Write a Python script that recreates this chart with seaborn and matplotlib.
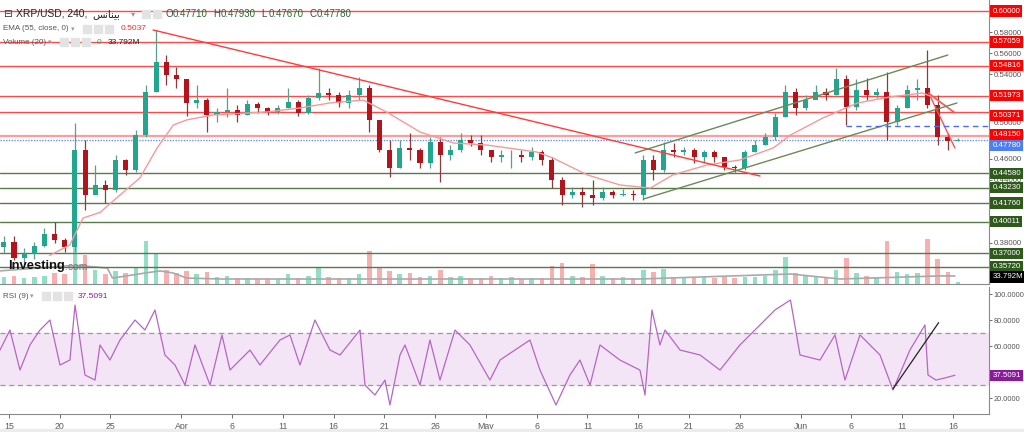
import numpy as np
import pandas as pd
import matplotlib
matplotlib.use("Agg")
import matplotlib.pyplot as plt
import matplotlib.transforms as mtransforms
import seaborn as sns

sns.set_theme(style="white")
plt.rcParams['font.family'] = ['Liberation Sans', 'DejaVu Sans']

# ---------------- data (daily, day 0 = 14 Mar) ----------------
close = [0.381, 0.366, 0.369, 0.377, 0.388, 0.383, 0.376, 0.468, 0.425, 0.435,
         0.430, 0.459, 0.449, 0.482, 0.523, 0.552, 0.539, 0.535, 0.513, 0.516,
         0.501, 0.504, 0.506, 0.501, 0.512, 0.508, 0.504, 0.508, 0.514, 0.503,
         0.517, 0.522, 0.520, 0.513, 0.520, 0.527, 0.497, 0.468, 0.451, 0.470,
         0.468, 0.456, 0.476, 0.463, 0.468, 0.478, 0.475, 0.468, 0.461, 0.463,
         0.463, 0.461, 0.466, 0.459, 0.440, 0.425, 0.428, 0.425, 0.423, 0.428,
         0.425, 0.426, 0.425, 0.459, 0.449, 0.468, 0.466, 0.468, 0.461, 0.466,
         0.461, 0.452, 0.451, 0.466, 0.473, 0.480, 0.499, 0.523, 0.508, 0.516,
         0.523, 0.520, 0.535, 0.509, 0.525, 0.520, 0.523, 0.495, 0.508, 0.525,
         0.527, 0.511, 0.480, 0.4771, 0.4778]
high = [0.386, 0.386, 0.375, 0.381, 0.394, 0.400, 0.385, 0.494, 0.478, 0.454,
        0.440, 0.463, 0.460, 0.487, 0.530, 0.582, 0.558, 0.547, 0.534, 0.530,
        0.517, 0.508, 0.527, 0.511, 0.516, 0.514, 0.509, 0.511, 0.527, 0.516,
        0.520, 0.546, 0.527, 0.523, 0.525, 0.537, 0.530, 0.495, 0.478, 0.478,
        0.484, 0.470, 0.480, 0.480, 0.473, 0.484, 0.482, 0.482, 0.468, 0.468,
        0.468, 0.468, 0.471, 0.468, 0.461, 0.442, 0.433, 0.433, 0.440, 0.433,
        0.430, 0.431, 0.430, 0.463, 0.463, 0.476, 0.475, 0.471, 0.470, 0.468,
        0.468, 0.461, 0.454, 0.468, 0.478, 0.484, 0.503, 0.530, 0.527, 0.520,
        0.530, 0.527, 0.546, 0.539, 0.535, 0.536, 0.527, 0.542, 0.511, 0.530,
        0.535, 0.563, 0.520, 0.484, 0.4793]
low = [0.370, 0.364, 0.358, 0.365, 0.376, 0.380, 0.371, 0.371, 0.411, 0.427,
       0.418, 0.428, 0.444, 0.447, 0.480, 0.523, 0.530, 0.527, 0.500, 0.508,
       0.485, 0.495, 0.499, 0.495, 0.501, 0.503, 0.501, 0.502, 0.508, 0.500,
       0.502, 0.516, 0.516, 0.509, 0.508, 0.516, 0.485, 0.466, 0.442, 0.451,
       0.459, 0.451, 0.451, 0.438, 0.459, 0.466, 0.472, 0.463, 0.457, 0.457,
       0.451, 0.457, 0.459, 0.454, 0.432, 0.416, 0.423, 0.414, 0.416, 0.421,
       0.423, 0.424, 0.421, 0.421, 0.440, 0.447, 0.461, 0.463, 0.456, 0.456,
       0.457, 0.449, 0.447, 0.449, 0.466, 0.473, 0.478, 0.499, 0.501, 0.506,
       0.517, 0.516, 0.520, 0.492, 0.506, 0.516, 0.517, 0.478, 0.492, 0.508,
       0.516, 0.508, 0.473, 0.468, 0.4767]
first_open = 0.376
volume_m = [30, 35, 25, 30, 35, 45, 40, 290, 120, 60, 40, 55, 45, 70, 180, 130, 60, 45, 55, 40,
            50, 30, 35, 25, 25, 20, 20, 20, 40, 25, 35, 70, 30, 25, 25, 40, 140, 70, 55, 40,
            45, 30, 35, 60, 30, 35, 25, 25, 35, 25, 30, 20, 25, 25, 75, 90, 35, 30, 85, 35,
            25, 30, 25, 60, 50, 65, 30, 25, 25, 30, 25, 30, 25, 30, 30, 35, 60, 115, 45, 35,
            30, 30, 60, 110, 45, 35, 30, 180, 50, 40, 45, 190, 105, 50, 10]

ema_day = [5.0, 7.0, 8.3, 10.0, 11.6, 13.9, 15.6, 17.2, 18.5, 21.1, 26.4, 29.7, 32.6, 35.9,
           38.2, 41.5, 44.8, 48.1, 53.0, 54.6, 58.0, 61.2, 64.2, 66.4, 69.8, 73.0, 76.3,
           78.0, 81.2, 84.6, 87.8, 91.0, 92.0, 94.2]
ema_val = [0.368, 0.378, 0.4035, 0.409, 0.4225, 0.4415, 0.470, 0.4918, 0.4966, 0.5013,
           0.5042, 0.508, 0.5127, 0.5155, 0.5042, 0.4852, 0.4747, 0.4728, 0.4662, 0.4605,
           0.4444, 0.4349, 0.432, 0.4444, 0.4539, 0.4586, 0.470, 0.4823, 0.4985, 0.5127,
           0.5184, 0.5222, 0.5184, 0.5037]

vsma_day = [0.1, 6.7, 8.3, 10.7, 11.2, 14.4, 15.9, 17.2, 18.5, 21.8, 40.0, 63.2, 78.0, 82.9, 92.7, 94.2]
vsma_val = [55, 76, 76, 67, 25, 46, 55, 46, 25, 21, 21, 21, 42, 21, 34, 33.8]

rsi_day = [0.12, 1.1, 2.09, 3.07, 4.06, 5.04, 6.03, 7.01, 7.51, 8.49, 9.48, 9.97, 10.95, 11.94,
           13.42, 14.4, 15.39, 16.37, 17.36, 18.35, 19.33, 20.81, 21.99, 22.78, 24.75, 25.73,
           27.7, 28.69, 29.67, 31.15, 32.63, 33.62, 35.59, 36.08, 37.06, 38.05, 38.54, 39.53,
           40.02, 41.5, 42.48, 43.47, 44.95, 46.42, 48.39, 49.38, 52.33, 53.32, 54.9, 56.27,
           57.26, 58.25, 59.23, 61.2, 63.17, 63.67, 64.35, 65.14, 65.64, 67.12, 69.09, 71.06,
           73.02, 75.0, 76.47, 78.0, 78.94, 80.91, 82.39, 83.37, 84.85, 86.82, 88.1, 89.77,
           91.25, 91.55, 92.34, 93.2, 94.2]
rsi_val = [56.9, 72.3, 41.5, 60.8, 72.3, 80.0, 45.4, 49.2, 91.5, 37.7, 33.8, 60.8, 49.2, 64.6,
           80.0, 72.3, 87.7, 53.1, 45.4, 30.0, 60.8, 30.0, 68.5, 41.5, 56.9, 45.4, 64.6, 68.5,
           45.4, 80.0, 56.9, 53.1, 72.3, 30.0, 22.3, 33.8, 14.6, 53.1, 60.8, 30.0, 64.6, 33.8,
           72.3, 60.8, 33.8, 49.2, 64.6, 41.5, 14.6, 37.7, 49.2, 30.0, 60.8, 49.2, 41.5, 22.3,
           87.7, 60.8, 72.3, 56.9, 53.1, 41.5, 60.8, 76.2, 87.7, 95.4, 53.1, 49.2, 68.5, 33.8,
           68.5, 53.1, 26.2, 56.9, 76.2, 37.7, 33.8, 35.4, 37.5091]

red_levels = [0.60000, 0.57059, 0.54816, 0.51973, 0.50371]
pink_level = 0.48150
green_levels = [0.44580, 0.43230, 0.41760, 0.40011, 0.37000, 0.35720]
last_price = 0.47780
ema_last = 0.5037
vol_sma_last = "33.792M"
rsi_last = 37.5091
ohlc_last = [("O", "0.47710"), ("H", "0.47930"), ("L", "0.47670"), ("C", "0.47780")]

tick_days = [1, 6, 11, 18, 23, 28, 33, 38, 43, 48, 53, 58, 63, 68, 73, 79, 84, 89, 94]
tick_labels = ["15", "20", "25", "Apr", "6", "11", "16", "21", "26", "May", "6", "11",
               "16", "21", "26", "Jun", "6", "11", "16"]

# trend lines (day, price)
down_trend = [(15.2, 0.582), (75.0, 0.4434)]
chan_low = [(63.5, 0.4215), (94.4, 0.5127)]
chan_high = [(62.7, 0.4653), (93.5, 0.5582)]
short_red1 = [(91.6, 0.5222), (94.2, 0.5032)]
short_red2 = [(91.8, 0.5184), (94.2, 0.4700)]
blue_dash = [(83.5, 0.4909), (97.6, 0.4909)]
rsi_trend = [(88.1, 27.0), (92.6, 78.0)]

# ---------------- figure / layout ----------------
W, H = 1024, 432
fig = plt.figure(figsize=(W / 100, H / 100), dpi=100)
fig.patch.set_facecolor("white")
LBL = 5.7


def px_axes(x0, y0, x1, y1):
    return fig.add_axes([x0 / W, 1 - y1 / H, (x1 - x0) / W, (y1 - y0) / H])


ax = px_axes(0, 0, 989, 284)
rax = px_axes(0, 287, 989, 414)

days = np.arange(len(close))
opens = [first_open] + close[:-1]
centers = days + 0.5
df = pd.DataFrame({"day": centers, "open": opens, "close": close, "high": high, "low": low,
                   "vol": volume_m})
df["up"] = df["close"] >= df["open"]

up_col, dn_col = "#23a68e", "#b3141c"
colors = np.where(df["up"], up_col, dn_col)
wick_cols = np.where(df["up"], "#5f9c8a", "#8c3a3a")

# volume on twin axis
vax = ax.twinx()
vcols = np.where(df["up"], "#92dfc6", "#f7b0b0")
vax.bar(df["day"], df["vol"], width=0.45, color=vcols, zorder=1, linewidth=0)
sns.lineplot(x=vsma_day, y=vsma_val, ax=vax, color="#a9a9a9", lw=1.2)
vax.set_ylim(0, 284 * 4.2)
vax.set_yticks([])
vax.set_ylabel("")
for s in vax.spines.values():
    s.set_visible(False)
ax.set_zorder(vax.get_zorder() + 1)
ax.patch.set_visible(False)

# levels
for lv in red_levels:
    ax.axhline(lv, color="#ff4a4a", lw=1.0, zorder=2)
ax.axhline(pink_level, color="#ff9c9c", lw=1.6, zorder=2)
for lv in green_levels:
    ax.axhline(lv, color="#5b7a4a", lw=1.0, zorder=2)
ax.axhline(last_price, color="#6d8ff5", lw=1.0, ls=(0, (1, 1)), zorder=2)

# candles
ax.vlines(df["day"], df["low"], df["high"], colors=wick_cols, lw=0.9, zorder=3)
body_lo = np.minimum(df["open"], df["close"])
body_h = np.maximum(np.abs(df["close"] - df["open"]), 0.0008)
ax.bar(df["day"], body_h, bottom=body_lo, width=0.5, color=colors, zorder=4, linewidth=0)

# EMA
sns.lineplot(x=ema_day, y=ema_val, ax=ax, color="#f59a9a", lw=1.0, zorder=5)

# trend lines
for seg, col in [(down_trend, "#ff3b3b"), (short_red1, "#ff5050"), (short_red2, "#ff5050"),
                 (chan_low, "#6a8a58"), (chan_high, "#6a8a58")]:
    ax.plot([seg[0][0], seg[1][0]], [seg[0][1], seg[1][1]], color=col, lw=1.0, zorder=6)
ax.plot([blue_dash[0][0], blue_dash[1][0]], [blue_dash[0][1], blue_dash[1][1]],
        color="#4a6cf0", lw=1.0, ls=(0, (4, 3)), zorder=6)

ax.set_xlim(0.12, 97.56)
ax.set_ylim(0.34092, 0.61044)
ax.set_xticks([])
ax.yaxis.tick_right()
yt = [0.58, 0.56, 0.54, 0.46, 0.44, 0.38]
ax.set_yticks(yt)
ax.set_yticklabels([f"{v:.5f}" for v in yt])
ax.tick_params(axis="y", colors="#555555", labelsize=LBL, length=2.5, width=0.6, pad=1.2)
ax.set_ylabel("")
ax.set_xlabel("")
for name, s in ax.spines.items():
    s.set_visible(name in ("right", "bottom"))
    s.set_color("#8a8a8a")
    s.set_linewidth(0.8)

trans = mtransforms.blended_transform_factory(ax.transAxes, ax.transData)


def box(axis, y, text, fc, fc_text="white", dy=0):
    t = mtransforms.blended_transform_factory(axis.transAxes, axis.transData)
    axis.annotate(text, xy=(1.0, y), xycoords=t, xytext=(2.4, -dy * 0.72),
                  textcoords="offset points", ha="left", va="center", fontsize=LBL,
                  color=fc_text, zorder=20, annotation_clip=False,
                  bbox=dict(boxstyle="square,pad=0.28", fc=fc, ec="none"))


for lv in red_levels:
    box(ax, lv, f"{lv:.5f}", "#ff0000", dy=(3 if lv == 0.50371 else 0))
box(ax, pink_level, f"{pink_level:.5f}", "#ff0000", dy=-1)
box(ax, last_price, f"{last_price:.5f}", "#4e7ff2", dy=6)
for lv in green_levels:
    box(ax, lv, f"{lv:.5f}", "#2f5a1c")
box(ax, 0.3476, vol_sma_last, "#000000")
ax.annotate("0.50000", xy=(1.0, 0.50), xycoords=trans, xytext=(3.2, -7.5 * 0.72),
            textcoords="offset points", ha="left", va="center", fontsize=LBL,
            color="#555555", annotation_clip=False)

# ---------------- RSI ----------------
rax.axhspan(30, 70, color="#f3e5f5", zorder=0)
rax.axhline(70, color="#9a9a9a", lw=0.9, ls=(0, (4, 3)))
rax.axhline(30, color="#9a9a9a", lw=0.9, ls=(0, (4, 3)))
sns.lineplot(x=rsi_day, y=rsi_val, ax=rax, color="#b467c4", lw=0.9)
rax.plot([rsi_trend[0][0], rsi_trend[1][0]], [rsi_trend[0][1], rsi_trend[1][1]],
         color="#222222", lw=0.9)
rax.set_xlim(0.12, 97.56)
rax.set_ylim(7.7, 105.4)
rax.yaxis.tick_right()
rt = [20, 60, 80, 100]
rax.set_yticks(rt)
rax.set_yticklabels([f"{v:.4f}" for v in rt])
rax.tick_params(axis="y", colors="#555555", labelsize=5.3, length=2.5, width=0.6, pad=1.0)
rax.set_xticks(tick_days)
rax.set_xticklabels(tick_labels)
rax.tick_params(axis="x", colors="#555555", labelsize=6.3, length=3, width=0.6, pad=3,
                bottom=True, direction="out")
rax.set_xlabel("")
rax.set_ylabel("")
for name, s in rax.spines.items():
    s.set_visible(name in ("right", "bottom"))
    s.set_color("#8a8a8a")
    s.set_linewidth(0.8)
box(rax, rsi_last, f"{rsi_last:.4f}", "#8b1a9b")

# bottom grey strip
fig.patches.append(plt.Rectangle((0, 0), 1, 3 / H, transform=fig.transFigure,
                                 color="#ececec", zorder=0))

# ---------------- header legend ----------------
def ftxt(x, y, s, **kw):
    kw.setdefault("fontsize", 7.0)
    kw.setdefault("color", "#333333")
    fig.text(x / W, 1 - y / H, s, va="center", ha="left", **kw)


def icons(x, y, n=3):
    for i in range(n):
        fig.patches.append(plt.Rectangle(((x + i * 11) / W, 1 - (y + 4) / H), 8 / W, 8 / H,
                                         transform=fig.transFigure, color="#e3e3e3"))


arabic = "\uFEB2\uFEE7\uFE8E\uFEE8\uFEF4\uFE91"
ftxt(3, 14, "\u229F", fontsize=7.5, color="#333333", family=['DejaVu Sans'])
ftxt(16, 14, "XRP/USD, 240,", fontsize=7.4, color="#222222")
ftxt(92, 14, arabic, fontsize=7.4, color="#222222", family=['DejaVu Sans'])
ftxt(131, 14, "\u25BE", fontsize=6, color="#999999", family=['DejaVu Sans'])
icons(142, 14, 2)
x0 = 165
for letter, val in ohlc_last:
    ftxt(x0, 14, letter, fontsize=7.0, color="#444444")
    ftxt(x0 + 8, 14, val, fontsize=7.0, color="#2a6a3a")
    x0 += 48

ftxt(3, 29, "EMA (55, close, 0)", fontsize=5.8, color="#555555")
ftxt(71, 29, "\u25BE", fontsize=5, color="#999999", family=['DejaVu Sans'])
icons(83, 29)
ftxt(121, 29, f"{ema_last:.4f}", fontsize=6.0, color="#ff2a2a")

ftxt(3, 42, "Volume (20)", fontsize=5.8, color="#555555")
ftxt(48, 42, "\u25BE", fontsize=5, color="#999999", family=['DejaVu Sans'])
icons(60, 42)
ftxt(97, 42, "0", fontsize=6.0, color="#22aa66")
ftxt(108, 42, vol_sma_last, fontsize=6.0, color="#222222")

ftxt(3, 296, "RSI (9)", fontsize=5.8, color="#555555")
ftxt(30, 296, "\u25BE", fontsize=5, color="#999999", family=['DejaVu Sans'])
icons(42, 296)
ftxt(78, 296, f"{rsi_last:.4f}", fontsize=6.0, color="#8b1a9b")

# watermark
ftxt(8, 266, "Investing", fontsize=9.4, color="#111111", fontweight="bold")
ftxt(65, 267, ".com", fontsize=7.5, color="#777777")

fig.savefig("out.png", dpi=100, facecolor="white")
